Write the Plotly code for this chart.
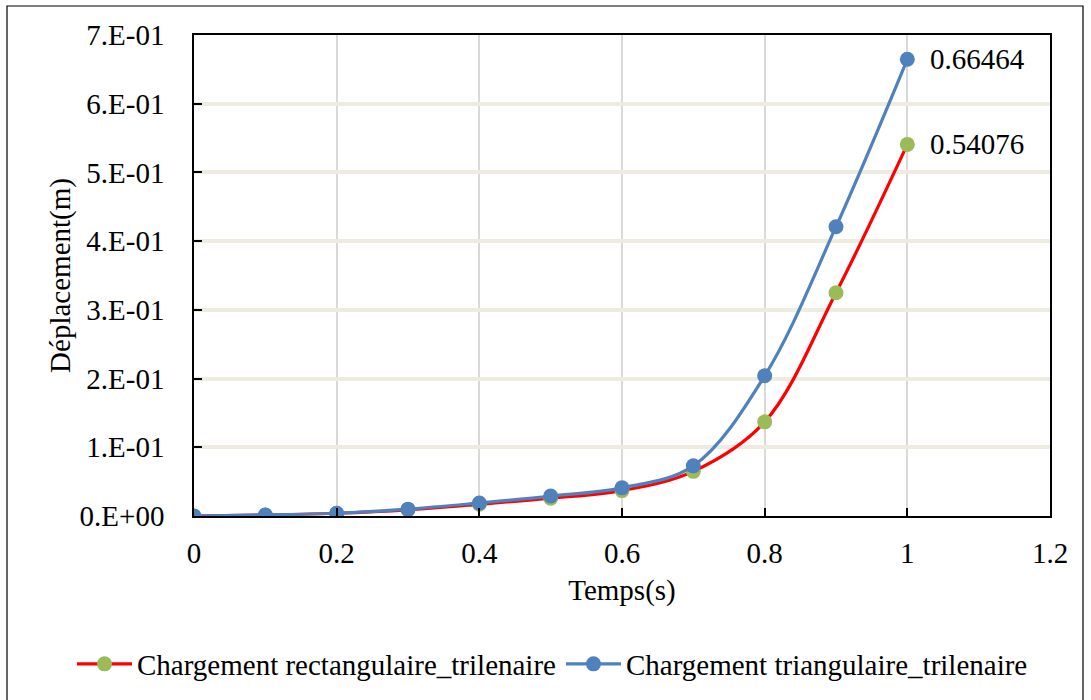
import plotly.graph_objects as go

# Time steps (s)
temps = [0.0, 0.1, 0.2, 0.3, 0.4, 0.5, 0.6, 0.7, 0.8, 0.9, 1.0]

# Displacement (m) for the two loading cases
depl_rectangulaire = [0.0, 0.0015, 0.004, 0.009, 0.017, 0.026, 0.037, 0.065, 0.137, 0.325, 0.54076]
depl_triangulaire = [0.0, 0.0015, 0.004, 0.010, 0.019, 0.029, 0.041, 0.073, 0.204, 0.421, 0.66464]

nom_rect = "Chargement rectangulaire_trilenaire"
nom_tri = "Chargement triangulaire_trilenaire"

# Axis ticks
x_ticks = [0, 0.2, 0.4, 0.6, 0.8, 1.0, 1.2]
x_ticklabels = ["0", "0.2", "0.4", "0.6", "0.8", "1", "1.2"]
y_ticks = [0, 0.1, 0.2, 0.3, 0.4, 0.5, 0.6, 0.7]
y_ticklabels = ["0.E+00", "1.E-01", "2.E-01", "3.E-01", "4.E-01", "5.E-01", "6.E-01", "7.E-01"]

FONT = "Liberation Serif, Times New Roman, serif"
FS = 29

fig = go.Figure()

fig.add_trace(go.Scatter(
    x=temps, y=depl_rectangulaire, name=nom_rect,
    mode="lines+markers",
    line=dict(color="#FF0000", width=3.2, shape="spline", smoothing=1.0),
    marker=dict(color="#9BBB59", size=15, line=dict(width=0)),
))
fig.add_trace(go.Scatter(
    x=temps, y=depl_triangulaire, name=nom_tri,
    mode="lines+markers",
    line=dict(color="#4F81BD", width=3.2, shape="spline", smoothing=1.0),
    marker=dict(color="#4F81BD", size=15, line=dict(width=0)),
))

# Value labels on the final points
for serie in (depl_triangulaire, depl_rectangulaire):
    fig.add_annotation(
        x=temps[-1], y=serie[-1], text=f"{serie[-1]:.5f}",
        showarrow=False, xanchor="left", yanchor="middle", xshift=21,
        font=dict(family=FONT, size=FS, color="black"),
    )

L, R, T, B = 194, 41, 35, 184
W, H = 1091, 700
pw, ph = W - L - R, H - T - B

def px_x(p):
    return (p - L) / pw

def px_y(p):
    return (H - B - p) / ph

# Outer chart frame
fig.add_shape(
    type="rect", xref="paper", yref="paper",
    x0=px_x(7), x1=px_x(1083), y0=px_y(706), y1=px_y(6),
    line=dict(color="black", width=1.2), fillcolor="rgba(0,0,0,0)", layer="below",
)

fig.update_layout(
    width=W, height=H,
    margin=dict(l=L, r=R, t=T, b=B, autoexpand=False),
    paper_bgcolor="white", plot_bgcolor="white",
    font=dict(family=FONT, size=FS, color="black"),
    showlegend=True,
    legend=dict(
        orientation="h",
        x=px_x(72), xanchor="left", y=px_y(664), yanchor="middle",
        font=dict(family=FONT, size=FS, color="black"),
        bgcolor="rgba(0,0,0,0)", itemwidth=55, tracegroupgap=0,
    ),
    xaxis=dict(
        range=[0, 1.2], tickvals=x_ticks, ticktext=x_ticklabels,
        showgrid=True, gridcolor="#D9D9D9", gridwidth=1.5,
        showline=True, linecolor="black", linewidth=1.5, mirror=True,
        ticks="inside", ticklen=8, tickcolor="black", tickwidth=1.5,
        ticklabelstandoff=10, zeroline=False, automargin=False,
        title=dict(text="Temps(s)", font=dict(family=FONT, size=FS), standoff=12),
    ),
    yaxis=dict(
        range=[0, 0.7], tickvals=y_ticks, ticktext=y_ticklabels,
        showgrid=True, gridcolor="#EEECE1", gridwidth=3.5,
        showline=True, linecolor="black", linewidth=1.5, mirror=True,
        ticks="inside", ticklen=8, tickcolor="black", tickwidth=1.5,
        ticklabelstandoff=22, zeroline=False, automargin=False,
        title=dict(text="Déplacement(m)", font=dict(family=FONT, size=FS), standoff=0),
    ),
)

fig.write_html("out.html")
